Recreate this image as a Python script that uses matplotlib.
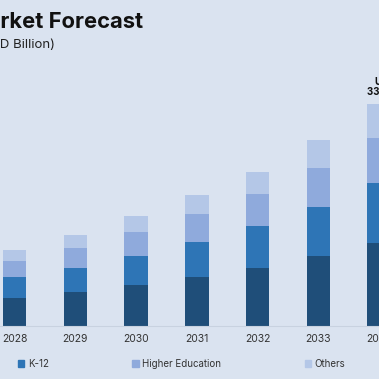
import matplotlib
matplotlib.use("Agg")
import matplotlib.pyplot as plt
from matplotlib.patches import Patch
import numpy as np

years = ["2028", "2029", "2030", "2031", "2032", "2033", "2034"]
corporate = [4.2, 5.1, 6.2, 7.4, 8.7, 10.5, 12.5]
k12 = [3.2, 3.6, 4.4, 5.3, 6.3, 7.4, 9.0]
higher_ed = [2.3, 3.0, 3.5, 4.1, 4.8, 5.9, 6.8]
others = [1.8, 2.0, 2.4, 2.9, 3.3, 4.2, 5.1]
last_label = ["USD", "33.4 Bn"]

bg = "#dae3f0"
colors = ["#1f4e79", "#2e75b6", "#8faadc", "#b4c7e7"]

fig = plt.figure(figsize=(3.79, 3.79), dpi=100, facecolor=bg)
ax = fig.add_axes([0, 53 / 379, 1, 326 / 379])
ax.set_facecolor(bg)

x = np.arange(len(years))
series = [corporate, k12, higher_ed, others]
bottom = np.zeros(len(years))
for vals, c in zip(series, colors):
    ax.bar(x, vals, width=24 / 62, bottom=bottom, color=c, edgecolor="none")
    bottom += np.array(vals)

ax.set_xlim(-15 / 62, 364 / 62)
ax.set_ylim(0, 326 / 6.65)
for s in ["top", "right", "left"]:
    ax.spines[s].set_visible(False)
ax.spines["bottom"].set_color("#c8d2e0")
ax.spines["bottom"].set_linewidth(0.8)
ax.set_yticks([])
ax.set_xticks(x)
ax.set_xticklabels(years, fontsize=7.5, color="#333333", family="Inter")
ax.tick_params(axis="x", length=0, pad=6)

# label over the last bar (cut by the right edge like the source)
ax.text(x[-1] - 0.19, bottom[-1] + 1.0, last_label[1], ha="left", va="bottom",
        fontsize=7, fontweight="bold", color="#111111", family="Inter")
ax.text(x[-1] - 0.08, bottom[-1] + 2.6, last_label[0], ha="left", va="bottom",
        fontsize=7, fontweight="bold", color="#111111", family="Inter")

# title and unit, cut on the left like the source
renderer = fig.canvas.get_renderer()


def cut_text(full, hidden, y_px, **kw):
    probe = fig.text(0, 0, hidden, **kw)
    w = probe.get_window_extent(renderer).width
    probe.remove()
    fig.text(-w / 379, 1 - y_px / 379, full, va="baseline", **kw)


cut_text("Market Forecast", "Ma", 28, fontsize=15.8, fontweight="bold",
         color="#111111", family="Inter")
cut_text("(USD Billion)", "(US", 48, fontsize=9.5, color="#222222", family="Inter")

handles = [Patch(color=colors[1], label="K-12"),
           Patch(color=colors[2], label="Higher Education"),
           Patch(color=colors[3], label="Others")]
fig.legend(handles=handles, loc="center left", bbox_to_anchor=(18 / 379, 1 - 364 / 379),
           ncol=3, frameon=False, handlelength=0.65, handleheight=0.65,
           handletextpad=0.35, columnspacing=8.6, borderpad=0, borderaxespad=0,
           prop={"family": "Inter", "size": 7}, labelcolor="#333333")

fig.savefig("out.png", dpi=100, facecolor=bg)
